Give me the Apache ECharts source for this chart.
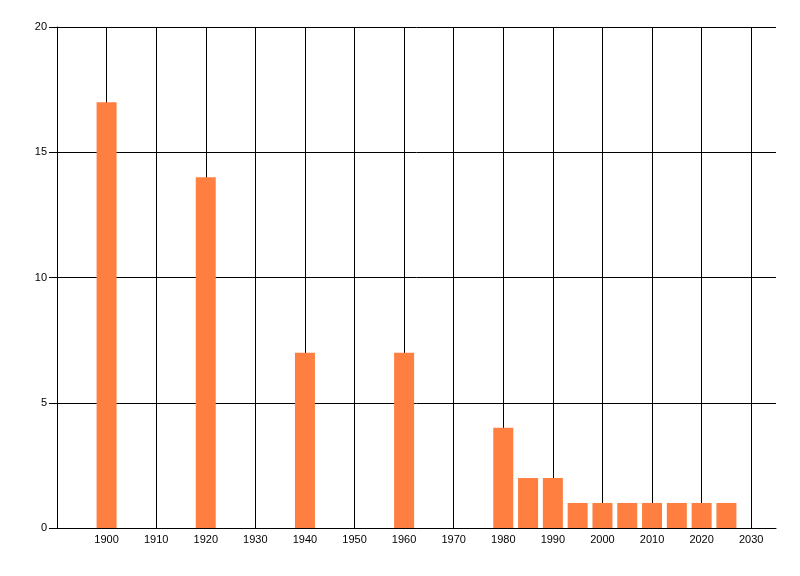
<!DOCTYPE html>
<html><head><meta charset="utf-8">
<script src="https://cdn.jsdelivr.net/npm/echarts@6/dist/echarts.min.js"></script>
<style>html,body{margin:0;padding:0;background:#fff}#c{width:800px;height:576px}</style>
</head><body><div id="c"></div>
<script>
const years = [1900, 1920, 1940, 1960, 1980, 1985, 1990, 1995, 2000, 2005, 2010, 2015, 2020, 2025];
const counts = [17, 14, 7, 7, 4, 2, 2, 1, 1, 1, 1, 1, 1, 1];
const yTicks = [0, 5, 10, 15, 20];

const chart = echarts.init(document.getElementById('c'), null, {renderer: 'canvas'});
const font = 'Liberation Sans';
chart.setOption({
  animation: false,
  backgroundColor: '#fff',
  grid: {left: 57, right: 24, top: 27, bottom: 48, containLabel: false},
  xAxis: {
    type: 'value', min: 1890, max: 2035, interval: 10,
    axisLine: {show: true, onZero: false, lineStyle: {color: '#000', width: 1}},
    axisTick: {show: false},
    axisLabel: {color: '#000', fontFamily: font, fontSize: 11, margin: 6,
      showMinLabel: false, showMaxLabel: false,
      formatter: v => (v >= 1900 && v <= 2030 && v % 10 === 0) ? String(v) : ''},
    splitLine: {show: true, showMinLine: false, showMaxLine: false, lineStyle: {color: '#000', width: 1}}
  },
  yAxis: {
    type: 'value', min: yTicks[0], max: yTicks[yTicks.length - 1], interval: 5,
    axisLine: {show: true, lineStyle: {color: '#000', width: 1}},
    axisTick: {show: true, length: 8, lineStyle: {color: '#000'}},
    axisLabel: {color: '#000', fontFamily: font, fontSize: 11, margin: 10},
    splitLine: {show: true, lineStyle: {color: '#000', width: 1}}
  },
  series: [{
    type: 'bar',
    data: years.map((y, i) => [y, counts[i]]),
    barWidth: 20,
    itemStyle: {color: '#FF7F40'}
  }]
});
</script></body></html>
